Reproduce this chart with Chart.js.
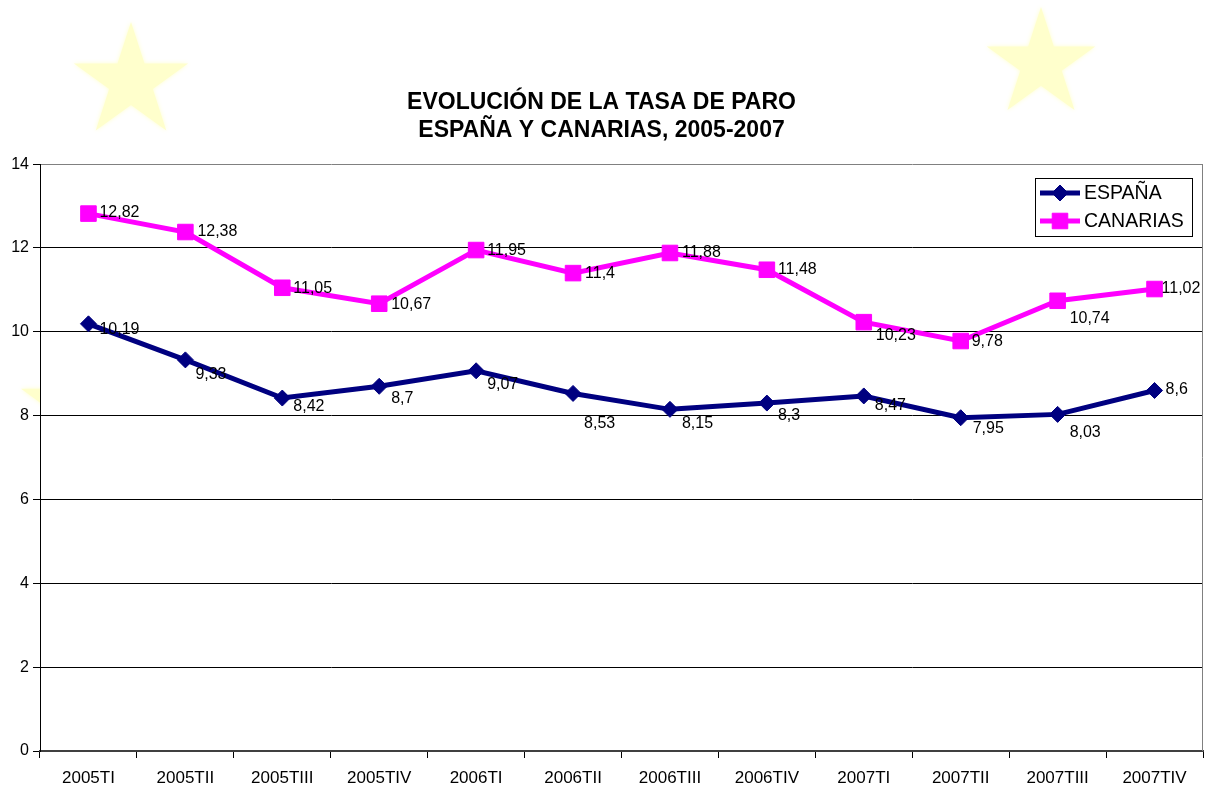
<!DOCTYPE html>
<html>
<head>
<meta charset="utf-8">
<script src="https://cdn.jsdelivr.net/npm/chart.js@4/dist/chart.umd.min.js"></script>
<style>
  html, body { margin: 0; padding: 0; background: #ffffff; }
  #wrap { width: 1209px; height: 789px; }
</style>
</head>
<body>
<div id="wrap"><canvas id="c" width="1209" height="789"></canvas></div>
<script>
// ---- DATA ----
const categories = ['2005TI','2005TII','2005TIII','2005TIV','2006TI','2006TII','2006TIII','2006TIV','2007TI','2007TII','2007TIII','2007TIV'];
const espana   = [10.19, 9.33, 8.42, 8.7, 9.07, 8.53, 8.15, 8.3, 8.47, 7.95, 8.03, 8.6];
const canarias = [12.82, 12.38, 11.05, 10.67, 11.95, 11.4, 11.88, 11.48, 10.23, 9.78, 10.74, 11.02];
const seriesNames = ['ESPAÑA', 'CANARIAS'];
const titleLines = ['EVOLUCIÓN DE LA TASA DE PARO', 'ESPAÑA Y CANARIAS, 2005-2007'];
const yTickMin = 0, yTickMax = 14, yTickStep = 2;

// ---- STYLE (label nudges relative to each point, in px) ----
const labelNudge = [
  [[11,6],[10,15],[11,9],[12,12],[11,14],[11,30],[12,14],[11,13],[11,10],[12,11],[12,18],[11,-1]],
  [[11,-1],[12,0],[11,1],[12,1],[11,1],[12,0],[12,0],[11,0],[12,13],[11,1],[12,18],[7,0]]
];
const FONT = "'Liberation Sans', Arial, sans-serif";

function starPath(ctx, cx, cy, r) {
  const ri = r * 0.382;
  ctx.beginPath();
  for (let i = 0; i < 10; i++) {
    const rad = (i % 2 === 0) ? r : ri;
    const a = -Math.PI / 2 + i * Math.PI / 5;
    const x = cx + rad * Math.cos(a), y = cy + rad * Math.sin(a);
    if (i === 0) ctx.moveTo(x, y); else ctx.lineTo(x, y);
  }
  ctx.closePath();
}

const bgPlugin = {
  id: 'bg',
  beforeDraw(chart) {
    const ctx = chart.ctx, a = chart.chartArea;
    ctx.save();
    ctx.fillStyle = '#ffffff';
    ctx.fillRect(0, 0, chart.width, chart.height);
    ctx.fillStyle = '#ffffcc';
    ctx.shadowColor = 'rgba(255,255,200,0.9)';
    ctx.shadowBlur = 4;
    [[131, 82, 60], [1041, 64, 57], [80, 408, 62]].forEach(s => { starPath(ctx, s[0], s[1], s[2]); ctx.fill(); });
    ctx.shadowBlur = 0;
    ctx.fillStyle = '#ffffff';
    ctx.fillRect(a.left, a.top, a.right - a.left, a.bottom - a.top);
    ctx.restore();
  },
  beforeDatasetsDraw(chart) {
    const ctx = chart.ctx, a = chart.chartArea;
    ctx.save();
    ctx.strokeStyle = '#808080';
    ctx.lineWidth = 1;
    ctx.beginPath();
    ctx.moveTo(Math.round(a.right) - 0.5, a.top);
    ctx.lineTo(Math.round(a.right) - 0.5, a.bottom);
    ctx.stroke();
    ctx.restore();
  }
};

const labelPlugin = {
  id: 'vlabels',
  afterDatasetsDraw(chart) {
    const ctx = chart.ctx;
    ctx.save();
    ctx.font = '16px ' + FONT;
    ctx.fillStyle = '#000000';
    ctx.textAlign = 'left';
    ctx.textBaseline = 'middle';
    chart.data.datasets.forEach((ds, di) => {
      const meta = chart.getDatasetMeta(di);
      meta.data.forEach((pt, i) => {
        const txt = String(ds.data[i]).replace('.', ',');
        const n = labelNudge[di][i];
        ctx.fillText(txt, pt.x + n[0], pt.y + n[1]);
      });
    });
    ctx.restore();
  }
};

const legendPlugin = {
  id: 'boxLegend',
  afterDraw(chart) {
    const ctx = chart.ctx, a = chart.chartArea;
    const w = 157, h = 58;
    const x0 = Math.round(a.right) - 11 - w, y0 = Math.round(a.top) + 14;
    ctx.save();
    ctx.fillStyle = '#ffffff';
    ctx.fillRect(x0, y0, w, h);
    ctx.strokeStyle = '#000000';
    ctx.lineWidth = 1;
    ctx.strokeRect(x0 + 0.5, y0 + 0.5, w, h);
    chart.data.datasets.forEach((ds, i) => {
      const y = y0 + 15 + i * 28;
      const cx = x0 + 25;
      ctx.strokeStyle = ds.borderColor;
      ctx.lineWidth = ds.borderWidth;
      ctx.beginPath();
      ctx.moveTo(x0 + 5, y);
      ctx.lineTo(x0 + 45, y);
      ctx.stroke();
      ctx.fillStyle = ds.pointBackgroundColor;
      ctx.strokeStyle = ds.borderColor;
      ctx.lineWidth = 1;
      ctx.beginPath();
      if (ds.pointStyle === 'rect') {
        const s = ds.pointRadius * Math.SQRT1_2;
        ctx.rect(cx - s, y - s, 2 * s, 2 * s);
      } else {
        const r = ds.pointRadius;
        ctx.moveTo(cx, y - r); ctx.lineTo(cx + r, y);
        ctx.lineTo(cx, y + r); ctx.lineTo(cx - r, y); ctx.closePath();
      }
      ctx.fill(); ctx.stroke();
      ctx.fillStyle = '#000000';
      ctx.font = '19.5px ' + FONT;
      ctx.textAlign = 'left';
      ctx.textBaseline = 'middle';
      ctx.fillText(ds.label, x0 + 49, y + 1);
    });
    ctx.restore();
  }
};

new Chart(document.getElementById('c'), {
  type: 'line',
  data: {
    labels: categories,
    datasets: [
      {
        label: seriesNames[0], data: espana,
        borderColor: '#000080', backgroundColor: '#000080',
        pointBackgroundColor: '#000080', pointBorderColor: '#000080',
        borderWidth: 5, pointStyle: 'rectRot', pointRadius: 8, pointBorderWidth: 1,
        pointHoverRadius: 8, tension: 0, fill: false, clip: false
      },
      {
        label: seriesNames[1], data: canarias,
        borderColor: '#ff00ff', backgroundColor: '#ff00ff',
        pointBackgroundColor: '#ff00ff', pointBorderColor: '#ff00ff',
        borderWidth: 5, pointStyle: 'rect', pointRadius: 11, pointBorderWidth: 1,
        pointHoverRadius: 11, tension: 0, fill: false, clip: false
      }
    ]
  },
  options: {
    responsive: false,
    animation: false,
    devicePixelRatio: 1,
    events: [],
    layout: { autoPadding: false, padding: { top: 0, left: 0, right: 6, bottom: 0 } },
    plugins: {
      legend: { display: false },
      tooltip: { enabled: false },
      title: {
        display: true,
        text: titleLines,
        color: '#000000',
        font: { family: FONT, size: 23, weight: 'bold', lineHeight: 1.22 },
        padding: { top: 89, bottom: 19 }
      }
    },
    scales: {
      x: {
        type: 'category',
        offset: true,
        grid: { offset: true, drawOnChartArea: false, drawTicks: true, tickLength: 7, tickColor: '#000000' },
        border: { color: '#404040', width: 2 },
        ticks: { color: '#000000', font: { family: FONT, size: 17 }, padding: 10, maxRotation: 0, autoSkip: false },
        afterFit(scale) { scale.height = 38; scale.paddingLeft = 0; scale.paddingRight = 0; }
      },
      y: {
        min: yTickMin, max: yTickMax,
        grid: {
          color: (c) => (c.tick && c.tick.value === yTickMax) ? '#808080' : '#000000',
          lineWidth: 1, tickLength: 7, tickColor: '#000000', drawTicks: true
        },
        border: { color: '#000000', width: 1 },
        ticks: { stepSize: yTickStep, color: '#000000', font: { family: FONT, size: 16 }, padding: 4 },
        afterFit(scale) { scale.width = 40; }
      }
    }
  },
  plugins: [bgPlugin, labelPlugin, legendPlugin]
});
</script>
</body>
</html>
